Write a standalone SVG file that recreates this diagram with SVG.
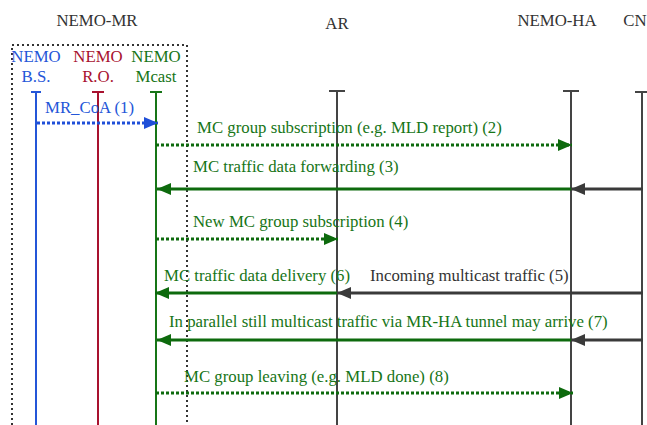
<svg xmlns="http://www.w3.org/2000/svg" width="647" height="425" viewBox="0 0 647 425">
  <style>
    text { font-family: "Liberation Serif", "Times New Roman", serif; font-size: 16.8px; }
    .hdr { fill: #333333; text-anchor: middle; }
    .blue { fill: #2456d8; }
    .red { fill: #a8122f; }
    .green { fill: #177517; }
    .grey { fill: #333333; }
    .life { fill: none; stroke-width: 2; }
    .box { fill: none; stroke: #333333; stroke-width: 2; stroke-dasharray: 2 3; }
    .msg { fill: none; stroke-width: 3; }
    .dot { stroke-dasharray: 3 2; }
  </style>
  <defs>
    <marker id="headBlue" markerUnits="userSpaceOnUse" markerWidth="14" markerHeight="14" refX="14" refY="7" orient="auto">
      <path d="M0,1 L14,7 L0,13 z" fill="#1f4fd8"/>
    </marker>
    <marker id="headGreen" markerUnits="userSpaceOnUse" markerWidth="14" markerHeight="14" refX="14" refY="7" orient="auto">
      <path d="M0,1 L14,7 L0,13 z" fill="#0d6a0d"/>
    </marker>
    <marker id="headGrey" markerUnits="userSpaceOnUse" markerWidth="14" markerHeight="14" refX="14" refY="7" orient="auto">
      <path d="M0,1 L14,7 L0,13 z" fill="#3a3a3a"/>
    </marker>
  </defs>

  <!-- NEMO mobile router grouping -->
  <g id="nemo-mr">
    <text class="hdr" x="97" y="26">NEMO-MR</text>
    <rect class="box" x="12" y="45" width="175" height="400"/>
  </g>

  <g id="nemo-bs">
    <text class="blue" x="36" y="62" text-anchor="middle">NEMO</text>
    <text class="blue" x="36" y="82" text-anchor="middle">B.S.</text>
    <path class="life" stroke="#2456d8" d="M31,92 H41 M36,92 V425"/>
  </g>

  <g id="nemo-ro">
    <text class="red" x="98" y="62" text-anchor="middle">NEMO</text>
    <text class="red" x="98" y="82" text-anchor="middle">R.O.</text>
    <path class="life" stroke="#a8122f" d="M92,92 H104 M98,92 V425"/>
  </g>

  <g id="nemo-mcast">
    <text class="green" x="156" y="62" text-anchor="middle">NEMO</text>
    <text class="green" x="156" y="82" text-anchor="middle">Mcast</text>
    <path class="life" stroke="#177517" d="M150,92 H162 M156,92 V425"/>
  </g>

  <g id="ar">
    <text class="hdr" x="337" y="29">AR</text>
    <path class="life" stroke="#444444" d="M329,91 H345 M337,91 V425"/>
  </g>

  <g id="nemo-ha">
    <text class="hdr" x="557" y="26">NEMO-HA</text>
    <path class="life" stroke="#444444" d="M563,91 H579 M571,91 V425"/>
  </g>

  <g id="cn">
    <text class="hdr" x="635" y="26">CN</text>
    <path class="life" stroke="#444444" d="M635,92 H647 M642,92 V425"/>
  </g>

  <!-- messages -->
  <g id="connectors">
    <line class="msg dot" stroke="#1f4fd8" x1="37" y1="123" x2="158" y2="123" marker-end="url(#headBlue)"/>
    <text class="blue" x="45" y="113">MR_CoA (1)</text>

    <line class="msg dot" stroke="#0d6a0d" x1="156" y1="145" x2="572" y2="145" marker-end="url(#headGreen)"/>
    <text class="green" x="197" y="133">MC group subscription (e.g. MLD report) (2)</text>

    <line class="msg" stroke="#3a3a3a" x1="643" y1="189" x2="571" y2="189" marker-end="url(#headGrey)"/>
    <line class="msg" stroke="#0d6a0d" x1="571" y1="189" x2="157" y2="189" marker-end="url(#headGreen)"/>
    <text class="green" x="193" y="172">MC traffic data forwarding (3)</text>

    <line class="msg dot" stroke="#0d6a0d" x1="156" y1="239" x2="338" y2="239" marker-end="url(#headGreen)"/>
    <text class="green" x="193" y="227">New MC group subscription (4)</text>

    <line class="msg" stroke="#3a3a3a" x1="643" y1="293" x2="337" y2="293" marker-end="url(#headGrey)"/>
    <text class="grey" x="370" y="281">Incoming multicast traffic (5)</text>

    <line class="msg" stroke="#0d6a0d" x1="337" y1="293" x2="155" y2="293" marker-end="url(#headGreen)"/>
    <text class="green" x="164" y="281">MC traffic data delivery (6)</text>

    <line class="msg" stroke="#3a3a3a" x1="643" y1="340" x2="571" y2="340" marker-end="url(#headGrey)"/>
    <line class="msg" stroke="#0d6a0d" x1="571" y1="340" x2="157" y2="340" marker-end="url(#headGreen)"/>
    <text class="green" x="169" y="327">In parallel still multicast traffic via MR-HA tunnel may arrive (7)</text>

    <line class="msg dot" stroke="#0d6a0d" x1="156" y1="393" x2="573" y2="393" marker-end="url(#headGreen)"/>
    <text class="green" x="184" y="382">MC group leaving (e.g. MLD done) (8)</text>
  </g>
</svg>
